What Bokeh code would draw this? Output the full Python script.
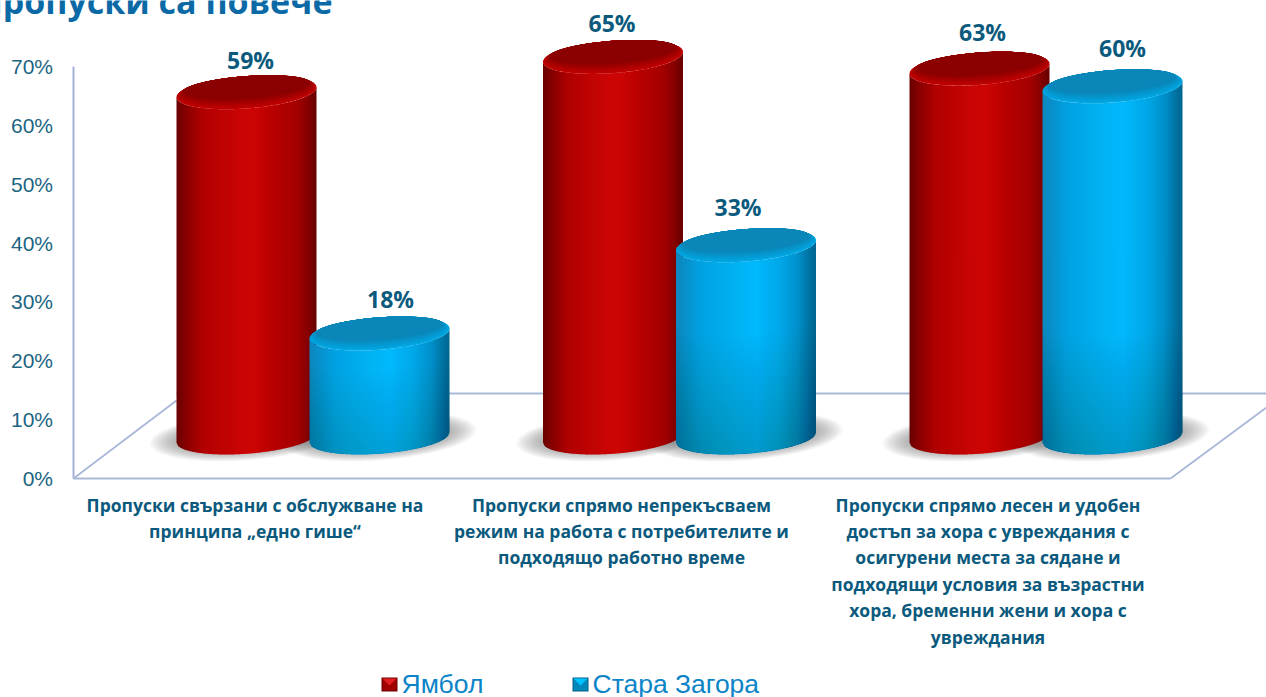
from bokeh.plotting import figure
from bokeh.embed import file_html
from bokeh.resources import INLINE
from bokeh.core.properties import value
from bokeh.models import Label, FixedTicker, CustomJSTickFormatter
import numpy as np

# ---- data ----
CATEGORIES = [
    "Пропуски свързани с обслужване на\nпринципа „едно гише“",
    "Пропуски спрямо непрекъсваем\nрежим на работа с потребителите и\nподходящо работно време",
    "Пропуски спрямо лесен и удобен\nдостъп за хора с увреждания с\nосигурени места за сядане и\nподходящи условия за възрастни\nхора, бременни жени и хора с\nувреждания",
]
YAMBOL = [59, 65, 63]
STARA_ZAGORA = [18, 33, 60]
SERIES_NAMES = ["Ямбол", "Стара Загора"]
Y_TICKS = [0, 10, 20, 30, 40, 50, 60, 70]
TITLE = "пропуски са повече"

# ---- layout (screen scale of the two linear scales) ----
W, H = 1266, 697
AXIS_PX = 73
PX_X, PX_Y = 366.5, 412 / 70
G0_PX, ZERO_PX = 312.5, 478
DEPTH_PX = 39       # vertical shift of bars' plane above the front edge
BASE_PX = 41        # base centre above front edge
BAR_OFF = 66.5      # half distance between the two bars of a group
R, A, S = 70.0, 16.25, 10 / 140
LABEL_DX = [[4, -1, 3], [11, -8, 10]]
LABEL_DY = [[-32, -34, -37], [-35, -38, -38]]

xd = lambda px: (px - G0_PX) / PX_X
yd = lambda px: (ZERO_PX - px) / PX_Y

RED = [(0, "#6a0000"), (.07, "#880000"), (.18, "#b00000"), (.45, "#ca0404"), (.55, "#cc0404"),
       (.66, "#bc0000"), (.86, "#a40000"), (.95, "#800000"), (1, "#640000")]
BLUE = [(0, "#0e86bc"), (.17, "#00a0e0"), (.45, "#00b4f4"), (.58, "#00b8fc"), (.74, "#00a8e8"),
        (.87, "#0090cc"), (.96, "#00709e"), (1, "#006690")]
CAPS = {"red": ("#c20000", "#8b0000"), "blue": ("#00a8e4", "#0a86b8")}


def rgb(h):
    return np.array([int(h[i:i + 2], 16) for i in (1, 3, 5)], float)


def hex_(c):
    return "#%02x%02x%02x" % tuple(int(round(v)) for v in c)


def ramp(stops, t):
    xs = [s[0] for s in stops]
    cs = np.array([rgb(s[1]) for s in stops])
    return hex_([np.interp(t, xs, cs[:, i]) for i in range(3)])


p = figure(width=W, height=H, output_backend="svg", toolbar_location=None,
           x_range=(xd(0), xd(W)), y_range=(yd(H), yd(0)),
           min_border_left=0, min_border_right=0, min_border_top=0, min_border_bottom=0,
           x_axis_location=None)
p.grid.visible = False
p.outline_line_color = None
p.background_fill_color = "white"

ax = p.yaxis[0]
ax.fixed_location = xd(AXIS_PX - 0.5)
ax.ticker = FixedTicker(ticks=Y_TICKS)
ax.formatter = CustomJSTickFormatter(code="return tick + '%'")
ax.bounds = (0, 70)
ax.major_tick_line_color = None
ax.minor_tick_line_color = None
ax.axis_line_color = "#a3b4d6"
ax.axis_line_width = 2
ax.major_label_standoff = 14
ax.major_label_text_font = "Liberation Sans"
ax.major_label_text_font_size = "21px"
ax.major_label_text_color = "#1b6583"

# floor
FLOOR = "#a9b7d8"
for xs, ys in [((73, 1170), (478, 478)), ((73, 176), (478, 400)),
               ((176, 1266), (393, 393)), ((1170, 1266), (478, 407))]:
    p.line([xd(v) for v in xs], [yd(v) for v in ys], line_color=FLOOR, line_width=1.8)


def ellipse(cx, cy_px, rx, ay, n=90):
    t = np.linspace(0, 2 * np.pi, n)
    dx = rx * np.cos(t)
    y = cy_px + ay * np.sin(t) - S * dx
    return (cx + dx / PX_X).tolist(), yd(y).tolist()


def cylinder(cx, val, stops, kind):
    top_px = ZERO_PX - DEPTH_PX - val * PX_Y
    base_px = ZERO_PX - BASE_PX
    n = 70
    edges = np.linspace(-R, R, n + 1)
    xs, ys, cols = [], [], []
    for i in range(n):
        a, b = edges[i], edges[i + 1] + (0.6 if i < n - 1 else 0)
        d = np.linspace(a, b, 3)
        arc = A * np.sqrt(np.clip(1 - (d / R) ** 2, 0, 1))
        yt = top_px + arc - S * d
        yb = base_px + arc - S * d
        xs.append((cx + np.r_[d, d[::-1]] / PX_X).tolist())
        ys.append(yd(np.r_[yt, yb[::-1]]).tolist())
        cols.append(ramp(stops, (i + .5) / n))
    p.patches(xs, ys, fill_color=cols, line_color=None)
    if kind == "blue":
        d = np.linspace(-R, R, 50)
        arc = A * np.sqrt(np.clip(1 - (d / R) ** 2, 0, 1))
        for k in range(24):
            y0 = 320 + k * 5
            if y0 < top_px + 20:
                continue
            yt = y0 + arc - S * d
            yb = base_px + arc - S * d
            p.patch((cx + np.r_[d, d[::-1]] / PX_X).tolist(), yd(np.r_[yt, yb[::-1]]).tolist(),
                    fill_color="#003f66", fill_alpha=0.012, line_color=None)
    c0, c1 = CAPS[kind]
    c0, c1 = rgb(c0), rgb(c1)
    layers = 14
    for k in range(layers):
        f = k / (layers - 1)
        ay = A * (1 - .36 * f)
        rx = R * (1 - .11 * f)
        shift = np.hypot(A, S * R) - np.hypot(ay, S * rx)
        ex, ey = ellipse(cx, top_px - shift, rx, ay)
        p.patch(ex, ey, fill_color=hex_(c0 + (c1 - c0) * min(1, f * 1.1)), line_color=None)


def shadow(cx):
    for k in range(14):
        f = k / 13
        ex, ey = ellipse(cx, ZERO_PX - 42, 97 - 24 * f, 24 - 8 * f)
        p.patch(ex, ey, fill_color="#606060", fill_alpha=0.04, line_color=None)


for g in range(3):
    shadow(g - BAR_OFF / PX_X)
    shadow(g + BAR_OFF / PX_X)
for g in range(3):
    cylinder(g - BAR_OFF / PX_X, YAMBOL[g], RED, "red")
    cylinder(g + BAR_OFF / PX_X, STARA_ZAGORA[g], BLUE, "blue")

# value labels
for s, (vals, sgn) in enumerate([(YAMBOL, -1), (STARA_ZAGORA, 1)]):
    x = [g + sgn * BAR_OFF / PX_X for g in range(3)]
    y = [v + DEPTH_PX / PX_Y for v in vals]
    p.text(x, y, text=[f"{v}%" for v in vals], x_offset=LABEL_DX[s], y_offset=LABEL_DY[s],
           text_align="center", text_baseline="middle", text_color="#0b5a7d",
           text_font=value("Open Sans"), text_font_style="bold", text_font_size="23px")

# category labels
p.text([g - 58 / PX_X for g in range(3)], [yd(492)] * 3, text=CATEGORIES,
       text_align="center", text_baseline="top", text_color="#0b5a7d",
       text_font=value("Open Sans"), text_font_style="bold", text_font_size="17.5px",
       text_line_height=1.1)

# legend
for name, col, tri, dark, sx, tx in [
    (SERIES_NAMES[0], "#a00000", "#e02020", "#6a0000", 381, 401),
    (SERIES_NAMES[1], "#0088bb", "#00c4ff", "#005f86", 572, 592),
]:
    x0, x1, y0, y1 = xd(sx), xd(sx + 16), yd(677), yd(691)
    p.patch([x0, x1, x1, x0], [y0, y0, y1, y1], fill_color=dark, line_color=None)
    p.patch([xd(sx + 1), xd(sx + 15), xd(sx + 15), xd(sx + 1)],
            [yd(678), yd(678), yd(690), yd(690)], fill_color=col, line_color=None)
    p.patch([xd(sx + 1), xd(sx + 15), xd(sx + 8)], [yd(678), yd(678), yd(685)],
            fill_color=tri, line_color=None)
    p.text([xd(tx)], [yd(683)], text=[name], text_align="left", text_baseline="middle",
           text_color="#0b84c8", text_font=value("Liberation Sans"), text_font_size="26.5px")

# title, clipped by the page as in the original
p.add_layout(Label(x=xd(-20), y=yd(0), text=TITLE, text_font="Open Sans", text_font_style="bold",
                   text_font_size="34px", text_color="#0b6aa6", text_align="left",
                   text_baseline="alphabetic"))

open("out.html", "w").write(file_html(p, INLINE))
